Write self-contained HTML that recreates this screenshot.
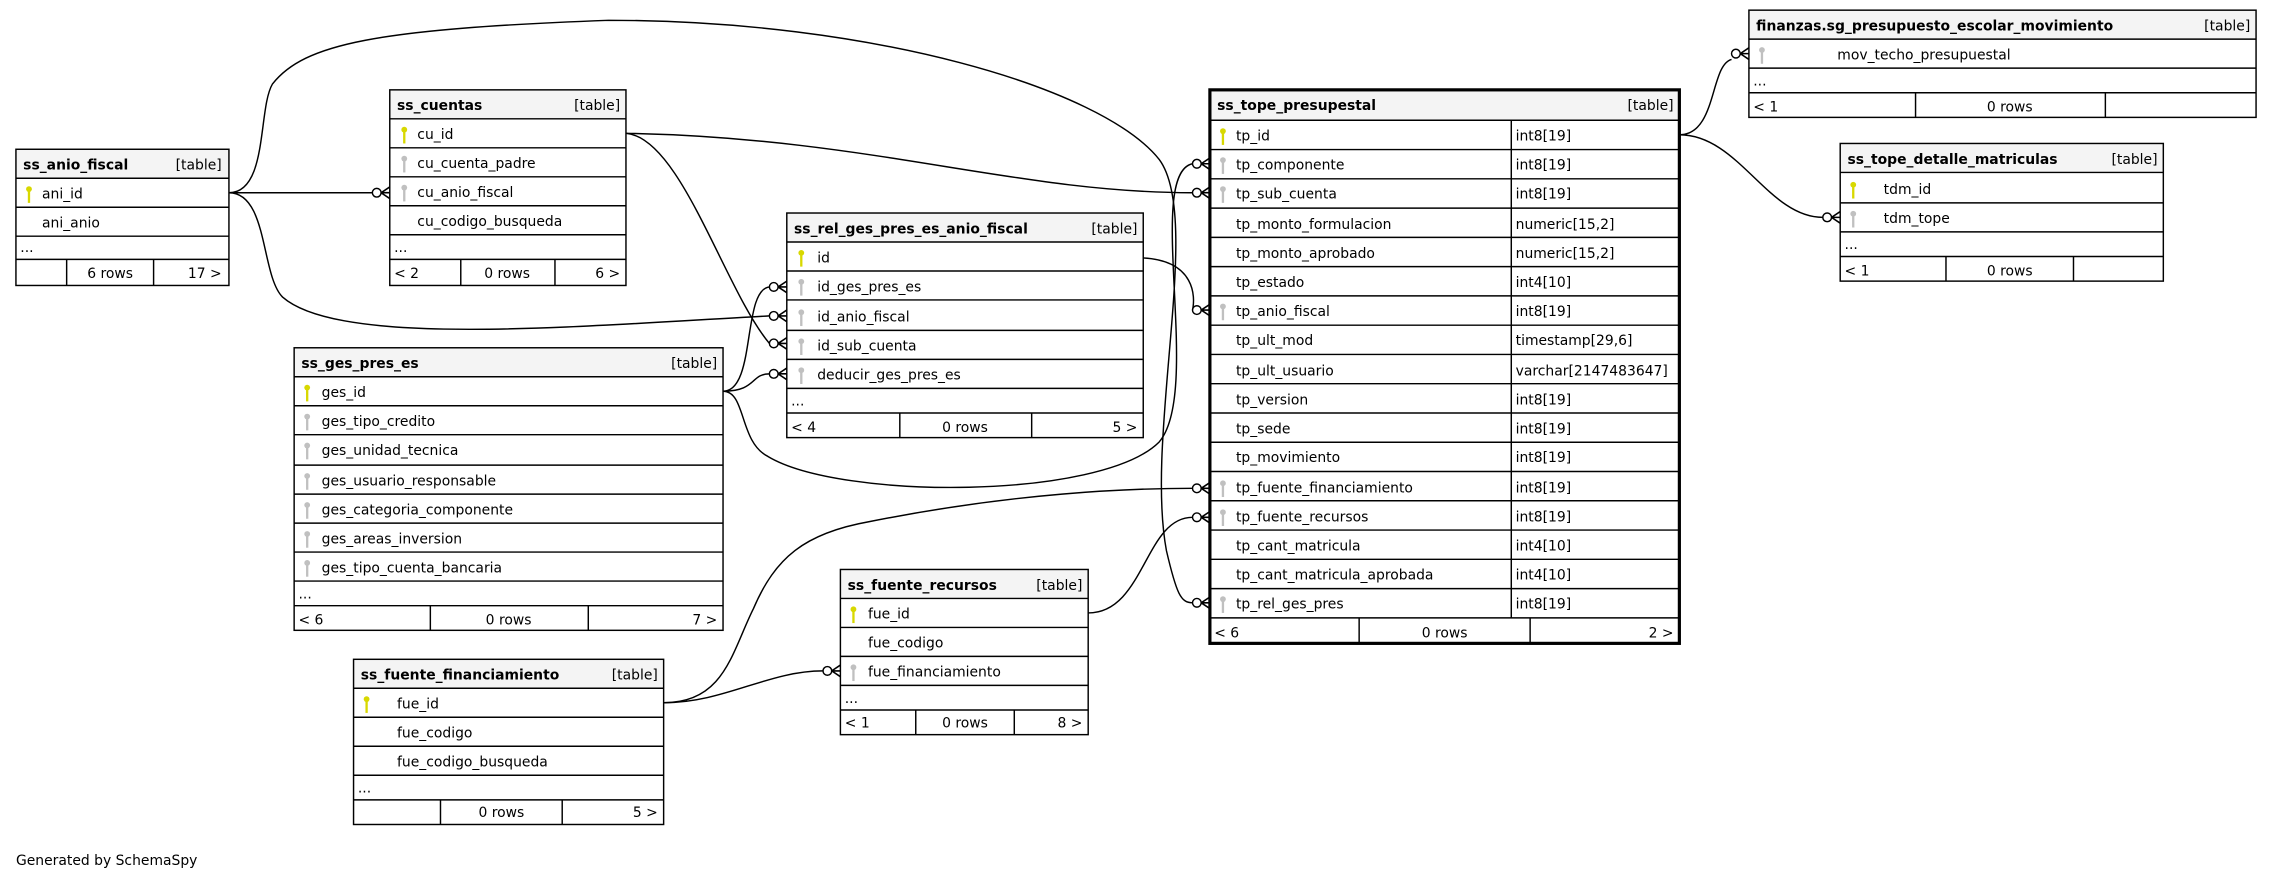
<!DOCTYPE html>
<html><head><meta charset="utf-8"><style>
html,body{margin:0;padding:0;background:#fff;}
svg{display:block;}
text{font-family:"DejaVu Sans","Liberation Sans",sans-serif;font-size:9.6px;fill:#000;}
.h{font-weight:bold;}
.e{text-anchor:end;}
.m{text-anchor:middle;}
.b{fill:none;stroke:#000;stroke-width:1;}
.hd{fill:#f4f4f4;stroke:none;}
.c{fill:none;stroke:#000;stroke-width:1;}
</style></head><body>
<svg width="2272" height="880" viewBox="0 0 1568 607.3" xmlns="http://www.w3.org/2000/svg">
<defs>
<g id="pk"><circle cx="0" cy="-6.5" r="2" fill="#d8d800"/><rect x="-0.8" y="-5" width="1.6" height="8" fill="#d8d800"/></g>
<g id="fk"><circle cx="0" cy="-6.5" r="2" fill="#c0c0c0"/><rect x="-0.8" y="-5" width="1.6" height="8" fill="#c0c0c0"/></g>
<g id="cf"><circle cx="-9" cy="0" r="3" fill="#fff" stroke="#000" stroke-width="1"/><path d="M-6,0 L0,-4 M-6,0 L0,0 M-6,0 L0,4" stroke="#000" stroke-width="1.1" fill="none"/></g>
</defs>
<rect width="1568" height="607.3" fill="#fff"/>

<!-- connectors -->
<path class="c" d="M158,133 L257,133"/>
<path class="c" d="M158,133 C185,133 178,75 188,58 C210,30 260,20 420,14 C600,14 760,60 800,110 C830,150 790,300 805,380 C812,410 815,416 823,416"/>
<path class="c" d="M158,133 C185,133 180,190 195,205 C235,240 400,225 531,218"/>
<path class="c" d="M432,92 C600,95 700,133 823,133"/>
<path class="c" d="M432,92 C470,95 500,200 531,237"/>
<path class="c" d="M499,270 C522,270 512,200 531,198"/>
<path class="c" d="M499,270 C522,270 518,258 531,258"/>
<path class="c" d="M499,270 C515,270 510,305 530,315 C580,345 760,345 800,305 C830,270 790,120 823,113"/>
<path class="c" d="M789,178 C825,180 825,205 823,214"/>
<path class="c" d="M458,485 C500,485 530,463 568,463"/>
<path class="c" d="M458,485 C500,485 505,450 520,420 C535,385 555,368 600,360 C700,340 780,337 823,337"/>
<path class="c" d="M751,423 C790,423 790,357 823,357"/>
<path class="c" d="M1159,93 C1185,93 1180,45 1195,41"/>
<path class="c" d="M1159,93 C1200,93 1220,150 1258,150"/>
<use href="#cf" x="269" y="133"/>
<use href="#cf" x="835" y="113"/>
<use href="#cf" x="835" y="133"/>
<use href="#cf" x="835" y="214"/>
<use href="#cf" x="835" y="337"/>
<use href="#cf" x="835" y="357"/>
<use href="#cf" x="835" y="416"/>
<use href="#cf" x="543" y="198"/>
<use href="#cf" x="543" y="218"/>
<use href="#cf" x="543" y="237"/>
<use href="#cf" x="543" y="258"/>
<use href="#cf" x="580" y="463"/>
<use href="#cf" x="1207" y="37"/>
<use href="#cf" x="1270" y="150"/>

<!-- ss_anio_fiscal -->
<rect class="hd" x="11" y="103" width="147" height="20"/>
<rect class="b" x="11" y="103" width="147" height="94"/>
<path class="b" d="M11,123H158M11,143H158M11,163H158M11,179H158M46,179V197M106,179V197"/>
<text class="h" x="16" y="117">ss_anio_fiscal</text><text class="e" x="153" y="117">[table]</text>
<use href="#pk" x="20" y="137"/><text x="29" y="137">ani_id</text>
<text x="29" y="157">ani_anio</text>
<text x="14" y="174">...</text>
<text class="m" x="76" y="192">6 rows</text><text class="e" x="153" y="192">17 &gt;</text>

<!-- ss_cuentas -->
<rect class="hd" x="269" y="62" width="163" height="20"/>
<rect class="b" x="269" y="62" width="163" height="135"/>
<path class="b" d="M269,82H432M269,102H432M269,122H432M269,142H432M269,162H432M269,179H432M318,179V197M383,179V197"/>
<text class="h" x="274" y="76">ss_cuentas</text><text class="e" x="428" y="76">[table]</text>
<use href="#pk" x="279" y="96"/><text x="288" y="96">cu_id</text>
<use href="#fk" x="279" y="116"/><text x="288" y="116">cu_cuenta_padre</text>
<use href="#fk" x="279" y="136"/><text x="288" y="136">cu_anio_fiscal</text>
<text x="288" y="156">cu_codigo_busqueda</text>
<text x="272" y="174">...</text>
<text x="272" y="192">&lt; 2</text><text class="m" x="350" y="192">0 rows</text><text class="e" x="428" y="192">6 &gt;</text>

<!-- ss_rel_ges_pres_es_anio_fiscal -->
<rect class="hd" x="543" y="147" width="246" height="20"/>
<rect class="b" x="543" y="147" width="246" height="155"/>
<path class="b" d="M543,167H789M543,187H789M543,207H789M543,228H789M543,248H789M543,268H789M543,285H789M621,285V302M712,285V302"/>
<text class="h" x="548" y="161">ss_rel_ges_pres_es_anio_fiscal</text><text class="e" x="785" y="161">[table]</text>
<use href="#pk" x="553" y="181"/><text x="564" y="181">id</text>
<use href="#fk" x="553" y="201"/><text x="564" y="201">id_ges_pres_es</text>
<use href="#fk" x="553" y="222"/><text x="564" y="222">id_anio_fiscal</text>
<use href="#fk" x="553" y="242"/><text x="564" y="242">id_sub_cuenta</text>
<use href="#fk" x="553" y="262"/><text x="564" y="262">deducir_ges_pres_es</text>
<text x="546" y="280">...</text>
<text x="546" y="298">&lt; 4</text><text class="m" x="666" y="298">0 rows</text><text class="e" x="785" y="298">5 &gt;</text>

<!-- ss_ges_pres_es -->
<rect class="hd" x="203" y="240" width="296" height="20"/>
<rect class="b" x="203" y="240" width="296" height="195"/>
<path class="b" d="M203,260H499M203,280H499M203,300H499M203,321H499M203,341H499M203,361H499M203,381H499M203,401H499M203,418H499M297,418V435M406,418V435"/>
<text class="h" x="208" y="254">ss_ges_pres_es</text><text class="e" x="495" y="254">[table]</text>
<use href="#pk" x="212" y="274"/><text x="222" y="274">ges_id</text>
<use href="#fk" x="212" y="294"/><text x="222" y="294">ges_tipo_credito</text>
<use href="#fk" x="212" y="314"/><text x="222" y="314">ges_unidad_tecnica</text>
<use href="#fk" x="212" y="335"/><text x="222" y="335">ges_usuario_responsable</text>
<use href="#fk" x="212" y="355"/><text x="222" y="355">ges_categoria_componente</text>
<use href="#fk" x="212" y="375"/><text x="222" y="375">ges_areas_inversion</text>
<use href="#fk" x="212" y="395"/><text x="222" y="395">ges_tipo_cuenta_bancaria</text>
<text x="206" y="413">...</text>
<text x="206" y="431">&lt; 6</text><text class="m" x="351" y="431">0 rows</text><text class="e" x="495" y="431">7 &gt;</text>

<!-- ss_fuente_financiamiento -->
<rect class="hd" x="244" y="455" width="214" height="20"/>
<rect class="b" x="244" y="455" width="214" height="114"/>
<path class="b" d="M244,475H458M244,495H458M244,515H458M244,535H458M244,552H458M304,552V569M388,552V569"/>
<text class="h" x="249" y="469">ss_fuente_financiamiento</text><text class="e" x="454" y="469">[table]</text>
<use href="#pk" x="253" y="489"/><text x="274" y="489">fue_id</text>
<text x="274" y="509">fue_codigo</text>
<text x="274" y="529">fue_codigo_busqueda</text>
<text x="247" y="547">...</text>
<text class="m" x="346" y="564">0 rows</text><text class="e" x="454" y="564">5 &gt;</text>

<!-- ss_fuente_recursos -->
<rect class="hd" x="580" y="393" width="171" height="20"/>
<rect class="b" x="580" y="393" width="171" height="114"/>
<path class="b" d="M580,413H751M580,433H751M580,453H751M580,473H751M580,490H751M632,490V507M700,490V507"/>
<text class="h" x="585" y="407">ss_fuente_recursos</text><text class="e" x="747" y="407">[table]</text>
<use href="#pk" x="589" y="427"/><text x="599" y="427">fue_id</text>
<text x="599" y="447">fue_codigo</text>
<use href="#fk" x="589" y="467"/><text x="599" y="467">fue_financiamiento</text>
<text x="583" y="485">...</text>
<text x="583" y="502">&lt; 1</text><text class="m" x="666" y="502">0 rows</text><text class="e" x="747" y="502">8 &gt;</text>

<!-- ss_tope_presupestal -->
<rect class="hd" x="835" y="62" width="324" height="21"/>
<rect x="835" y="62" width="324" height="382" fill="none" stroke="#000" stroke-width="2.2"/>
<path class="b" d="M835,83H1159M835,103.2H1159M835,123.4H1159M835,143.6H1159M835,163.8H1159M835,184H1159M835,204.2H1159M835,224.4H1159M835,244.6H1159M835,264.8H1159M835,285H1159M835,305.2H1159M835,325.4H1159M835,345.6H1159M835,365.8H1159M835,386H1159M835,406.2H1159M835,426.4H1159M1043,83V426.4M938,426.4V444M1056,426.4V444"/>
<text class="h" x="840" y="76">ss_tope_presupestal</text><text class="e" x="1155" y="76">[table]</text>
<use href="#pk" x="844" y="97"/><text x="853" y="97">tp_id</text><text x="1046" y="97">int8[19]</text>
<use href="#fk" x="844" y="117"/><text x="853" y="117">tp_componente</text><text x="1046" y="117">int8[19]</text>
<use href="#fk" x="844" y="137"/><text x="853" y="137">tp_sub_cuenta</text><text x="1046" y="137">int8[19]</text>
<text x="853" y="158">tp_monto_formulacion</text><text x="1046" y="158">numeric[15,2]</text>
<text x="853" y="178">tp_monto_aprobado</text><text x="1046" y="178">numeric[15,2]</text>
<text x="853" y="198">tp_estado</text><text x="1046" y="198">int4[10]</text>
<use href="#fk" x="844" y="218"/><text x="853" y="218">tp_anio_fiscal</text><text x="1046" y="218">int8[19]</text>
<text x="853" y="238">tp_ult_mod</text><text x="1046" y="238">timestamp[29,6]</text>
<text x="853" y="259">tp_ult_usuario</text><text x="1046" y="259">varchar[2147483647]</text>
<text x="853" y="279">tp_version</text><text x="1046" y="279">int8[19]</text>
<text x="853" y="299">tp_sede</text><text x="1046" y="299">int8[19]</text>
<text x="853" y="319">tp_movimiento</text><text x="1046" y="319">int8[19]</text>
<use href="#fk" x="844" y="340"/><text x="853" y="340">tp_fuente_financiamiento</text><text x="1046" y="340">int8[19]</text>
<use href="#fk" x="844" y="360"/><text x="853" y="360">tp_fuente_recursos</text><text x="1046" y="360">int8[19]</text>
<text x="853" y="380">tp_cant_matricula</text><text x="1046" y="380">int4[10]</text>
<text x="853" y="400">tp_cant_matricula_aprobada</text><text x="1046" y="400">int4[10]</text>
<use href="#fk" x="844" y="420"/><text x="853" y="420">tp_rel_ges_pres</text><text x="1046" y="420">int8[19]</text>
<text x="838" y="440">&lt; 6</text><text class="m" x="997" y="440">0 rows</text><text class="e" x="1155" y="440">2 &gt;</text>

<!-- finanzas.sg_presupuesto_escolar_movimiento -->
<rect class="hd" x="1207" y="7" width="350" height="20"/>
<rect class="b" x="1207" y="7" width="350" height="74"/>
<path class="b" d="M1207,27H1557M1207,47H1557M1207,64H1557M1322,64V81M1453,64V81"/>
<text class="h" x="1212" y="21">finanzas.sg_presupuesto_escolar_movimiento</text><text class="e" x="1553" y="21">[table]</text>
<use href="#fk" x="1216" y="41"/><text x="1268" y="41">mov_techo_presupuestal</text>
<text x="1210" y="59">...</text>
<text x="1210" y="77">&lt; 1</text><text class="m" x="1387" y="77">0 rows</text>

<!-- ss_tope_detalle_matriculas -->
<rect class="hd" x="1270" y="99" width="223" height="20"/>
<rect class="b" x="1270" y="99" width="223" height="95"/>
<path class="b" d="M1270,119H1493M1270,140H1493M1270,160H1493M1270,177H1493M1343,177V194M1431,177V194"/>
<text class="h" x="1275" y="113">ss_tope_detalle_matriculas</text><text class="e" x="1489" y="113">[table]</text>
<use href="#pk" x="1279" y="134"/><text x="1300" y="134">tdm_id</text>
<use href="#fk" x="1279" y="154"/><text x="1300" y="154">tdm_tope</text>
<text x="1273" y="172">...</text>
<text x="1273" y="190">&lt; 1</text><text class="m" x="1387" y="190">0 rows</text>

<text x="11" y="597">Generated by SchemaSpy</text>
</svg>
</body></html>
